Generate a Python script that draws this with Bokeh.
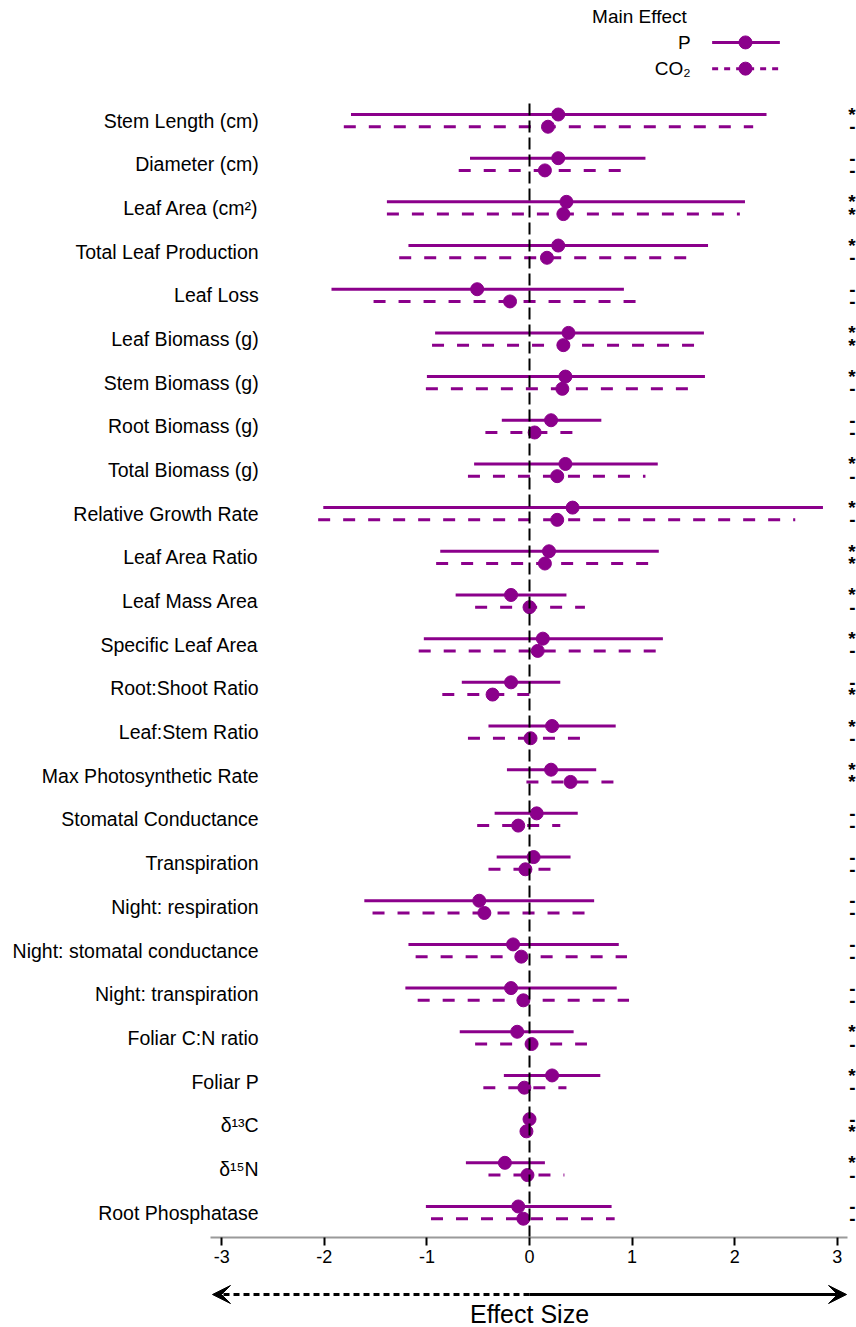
from bokeh.plotting import figure
from bokeh.models import ColumnDataSource, Range1d, FixedTicker, Arrow, VeeHead
from bokeh.layouts import column
from bokeh.core.properties import value
from bokeh.embed import file_html
from bokeh.resources import INLINE

# ---------------- data ----------------
labels = [
    "Stem Length (cm)", "Diameter (cm)", "Leaf Area (cm\u00b2)", "Total Leaf Production",
    "Leaf Loss", "Leaf Biomass (g)", "Stem Biomass (g)", "Root Biomass (g)",
    "Total Biomass (g)", "Relative Growth Rate", "Leaf Area Ratio", "Leaf Mass Area",
    "Specific Leaf Area", "Root:Shoot Ratio", "Leaf:Stem Ratio", "Max Photosynthetic Rate",
    "Stomatal Conductance", "Transpiration", "Night: respiration",
    "Night: stomatal conductance", "Night: transpiration", "Foliar C:N ratio",
    "Foliar P", "\u03b4\u00b9\u00b3C", "\u03b4\u00b9\u2075N", "Root Phosphatase",
]

# phosphorus main effect: mean effect size and confidence limits
p_mean = [0.28, 0.28, 0.36, 0.28, -0.51, 0.38, 0.35, 0.21, 0.35, 0.42, 0.19, -0.18, 0.13,
          -0.18, 0.22, 0.21, 0.07, 0.04, -0.49, -0.16, -0.18, -0.12, 0.22, 0.00, -0.24, -0.11]
p_lo = [-1.74, -0.58, -1.39, -1.18, -1.93, -0.92, -1.00, -0.27, -0.54, -2.01, -0.87, -0.72, -1.03,
        -0.66, -0.40, -0.22, -0.34, -0.32, -1.61, -1.18, -1.21, -0.68, -0.25, -0.02, -0.62, -1.01]
p_hi = [2.31, 1.13, 2.10, 1.74, 0.92, 1.70, 1.71, 0.70, 1.25, 2.86, 1.26, 0.36, 1.30,
        0.30, 0.84, 0.65, 0.47, 0.40, 0.63, 0.87, 0.85, 0.43, 0.69, 0.02, 0.15, 0.80]

# CO2 main effect
c_mean = [0.18, 0.15, 0.33, 0.17, -0.19, 0.33, 0.32, 0.05, 0.27, 0.27, 0.15, 0.00, 0.08,
          -0.36, 0.01, 0.40, -0.11, -0.04, -0.44, -0.08, -0.06, 0.02, -0.05, -0.03, -0.02, -0.06]
c_lo = [-1.81, -0.69, -1.39, -1.27, -1.52, -0.95, -1.01, -0.43, -0.60, -2.06, -0.91, -0.53, -1.08,
        -0.85, -0.60, -0.03, -0.51, -0.40, -1.53, -1.11, -1.09, -0.53, -0.45, -0.05, -0.40, -0.96]
c_hi = [2.18, 0.90, 2.05, 1.54, 1.04, 1.61, 1.55, 0.43, 1.13, 2.59, 1.16, 0.54, 1.24,
        0.00, 0.50, 0.83, 0.30, 0.21, 0.54, 0.95, 0.97, 0.56, 0.36, 0.01, 0.34, 0.83]

# significance flags per response (P, CO2)
sig_p = ["*", "-", "*", "*", "-", "*", "*", "-", "*", "*", "*", "*", "*",
         "-", "*", "*", "-", "-", "-", "-", "-", "*", "*", "-", "*", "-"]
sig_c = ["-", "-", "*", "-", "-", "*", "-", "-", "-", "-", "*", "-", "-",
         "*", "-", "*", "-", "-", "-", "-", "-", "-", "-", "*", "-", "-"]

x_ticks = [-3, -2, -1, 0, 1, 2, 3]
x_tick_labels = ["-3", "-2", "-1", "0", "1", "2", "3"]

legend_items = ["P", "CO\u2082"]
legend_title = "Main Effect"
axis_title = "Effect Size"

# ---------------- styling ----------------
FONT = "Liberation Sans"
PURPLE = "#8B008B"
W = 856
H_MAIN = 1272
H_FOOT = 55
X_START, X_END = -5.156, 3.187
Y_START, Y_END = -0.57, 27.75
OFF = 0.14
LABEL_X = -2.64
SIG_X = 3.178

n = len(labels)
row_y = [n - 1 - i for i in range(n)]

src = ColumnDataSource(dict(
    label=labels, y=row_y,
    py=[y + OFF for y in row_y], cy=[y - OFF for y in row_y],
    p_mean=p_mean, p_lo=p_lo, p_hi=p_hi,
    c_mean=c_mean, c_lo=c_lo, c_hi=c_hi,
    sig_p=sig_p, sig_c=sig_c,
    lx=[LABEL_X] * n, sx=[SIG_X] * n,
))

p = figure(width=W, height=H_MAIN, x_range=Range1d(X_START, X_END),
           y_range=Range1d(Y_START, Y_END), output_backend="svg",
           toolbar_location=None, y_axis_location=None,
           min_border_left=0, min_border_right=0, min_border_top=0, min_border_bottom=35)
p.outline_line_color = None
p.grid.visible = False
p.background_fill_color = "white"

ax = p.xaxis[0]
ax.ticker = FixedTicker(ticks=x_ticks)
ax.major_label_overrides = {t: s for t, s in zip(x_ticks, x_tick_labels)}
ax.bounds = (-3.11, 3.10)
ax.minor_tick_line_color = None
ax.major_tick_in = 0
ax.major_tick_out = 8
ax.major_tick_line_color = "black"
ax.major_tick_line_width = 2
ax.axis_line_color = "#9a9a9a"
ax.axis_line_width = 2
ax.major_label_text_font = FONT
ax.major_label_text_font_size = "18px"
ax.major_label_text_color = "black"
ax.major_label_standoff = 4

# error bars
p.segment(x0="p_lo", y0="py", x1="p_hi", y1="py", source=src,
          line_color=PURPLE, line_width=3)
p.segment(x0="c_lo", y0="cy", x1="c_hi", y1="cy", source=src,
          line_color=PURPLE, line_width=3, line_dash="12 13")
p.scatter(x="p_mean", y="py", source=src, size=13, fill_color=PURPLE, line_color=PURPLE)
p.scatter(x="c_mean", y="cy", source=src, size=13, fill_color=PURPLE, line_color=PURPLE)

# zero reference line
p.segment(x0=[0], y0=[Y_START], x1=[0], y1=[n - 1 + 0.46],
          line_color="black", line_width=2, line_dash="12 5")

# response labels
p.text(x="lx", y="y", text="label", source=src, text_align="right",
       text_baseline="middle", text_font=value(FONT), text_font_size="19.5px",
       text_color="black")

# significance flags, right-aligned at the page edge
p.text(x="sx", y="py", text="sig_p", source=src, text_align="right", text_baseline="middle",
       text_font=value(FONT), text_font_size="19px", text_font_style="bold", text_color="black")
p.text(x="sx", y="cy", text="sig_c", source=src, text_align="right", text_baseline="middle",
       text_font=value(FONT), text_font_size="19px", text_font_style="bold", text_color="black")

# legend
leg_title_y = 27.38
leg_rows_y = [26.79, 26.19]
p.text(x=[0.61], y=[leg_title_y], text=[legend_title], text_align="left",
       text_baseline="middle", text_font=value(FONT), text_font_size="19px", text_color="black")
p.text(x=[1.57, 1.57], y=leg_rows_y, text=legend_items, text_align="right",
       text_baseline="middle", text_font=value(FONT), text_font_size="19px", text_color="black")
p.segment(x0=[1.78], y0=[leg_rows_y[0]], x1=[2.44], y1=[leg_rows_y[0]],
          line_color=PURPLE, line_width=3)
p.segment(x0=[1.78], y0=[leg_rows_y[1]], x1=[2.44], y1=[leg_rows_y[1]],
          line_color=PURPLE, line_width=3, line_dash="6 6")
p.scatter(x=[2.105, 2.105], y=leg_rows_y, size=13, fill_color=PURPLE, line_color=PURPLE)

# footer: direction arrows and axis title
f = figure(width=W, height=H_FOOT, x_range=p.x_range, y_range=Range1d(0, 1),
           output_backend="svg", toolbar_location=None,
           x_axis_location=None, y_axis_location=None,
           min_border_left=0, min_border_right=0, min_border_top=0, min_border_bottom=0)
f.outline_line_color = None
f.grid.visible = False
f.add_layout(Arrow(end=VeeHead(size=18, fill_color="black", line_color="black"),
                   x_start=0, y_start=0.6, x_end=-3.09, y_end=0.6,
                   line_width=3, line_dash="6 4", line_color="black"))
f.add_layout(Arrow(end=VeeHead(size=18, fill_color="black", line_color="black"),
                   x_start=0, y_start=0.6, x_end=3.09, y_end=0.6,
                   line_width=3, line_color="black"))
f.text(x=[0], y=[0.25], text=[axis_title], text_align="center", text_baseline="middle",
       text_font=value(FONT), text_font_size="25px", text_color="black")

layout = column(p, f, spacing=0)
open("out.html", "w").write(file_html(layout, INLINE))
